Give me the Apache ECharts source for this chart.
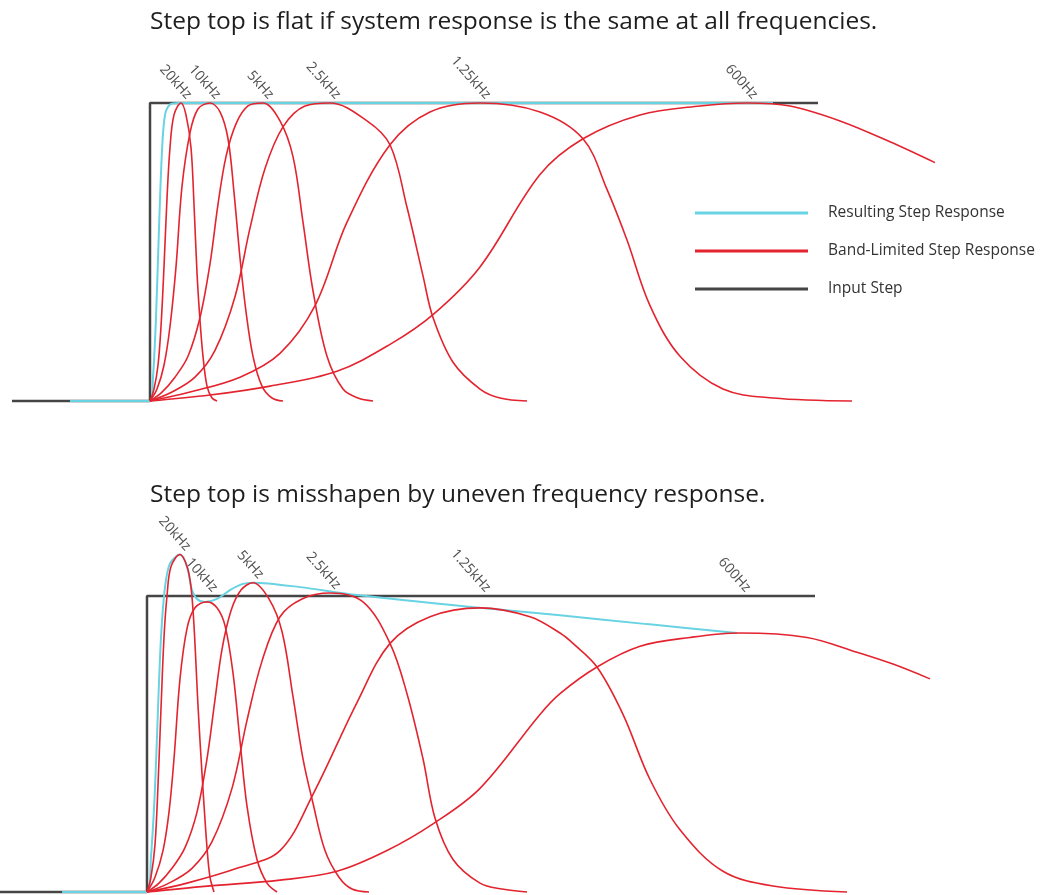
<!DOCTYPE html>
<html lang="en">
<head>
    <meta charset="UTF-8">
    <title>Step response</title>
    <script src="https://cdn.jsdelivr.net/npm/echarts@6/dist/echarts.min.js"></script>
</head>
<style>
html,body{margin: 0;padding: 0;background: #fff}
#chartBox{width: 1043px;height: 895px}
</style>
<body>
    <div id="chartBox"></div>
</body>
<script>
// 频率名称
const bandNames = ['20kHz', '10kHz', '5kHz', '2.5kHz', '1.25kHz', '600Hz'];

// 上图: 时间 t, 幅度 a (1 = 阶跃高度)
const topInput = [[-138,0],[0,0],[0,1],[668,1]];
const topResult = [[-80,0],[0,0],[3,0.08],[6,0.28],[9,0.58],[12,0.84],[15,0.96],[20,0.995],[28,1],[623,1]];
const top20k = [[0,0],[4,0.04],[8,0.12],[11,0.25],[14,0.45],[17,0.68],[20,0.85],[24,0.96],[31,1],[36,0.96],[41,0.85],[44,0.66],[47,0.43],[50,0.27],[53,0.15],[57,0.05],[62,0.01],[67,0]];
const top10k = [[0,0],[7,0.04],[14,0.12],[20,0.25],[26,0.45],[32,0.72],[40,0.9],[48,0.98],[60,1],[70,0.97],[78,0.88],[84,0.7],[90,0.48],[96,0.3],[103,0.15],[112,0.05],[122,0.01],[133,0]];
const top5k = [[0,0],[12,0.03],[25,0.08],[38,0.15],[50,0.28],[60,0.46],[68,0.66],[76,0.82],[86,0.93],[98,0.99],[113,1],[130,0.94],[143,0.82],[153,0.6],[163,0.37],[177,0.15],[193,0.04],[208,0.01],[223,0]];
const top2k5 = [[0,0],[22,0.03],[45,0.08],[65,0.17],[85,0.35],[100,0.58],[115,0.78],[133,0.92],[155,0.99],[180,1],[217,0.94],[240,0.86],[257,0.65],[273,0.42],[283,0.28],[303,0.13],[330,0.04],[350,0.01],[377,0]];
const top1k25 = [[0,0],[40,0.03],[90,0.08],[130,0.16],[165,0.32],[197,0.6],[240,0.86],[280,0.97],[330,1],[390,0.97],[433,0.88],[457,0.71],[477,0.54],[500,0.32],[530,0.15],[573,0.04],[623,0.01],[702,0]];
const top600 = [[0,0],[60,0.02],[120,0.05],[187,0.1],[240,0.19],[283,0.29],[330,0.45],[390,0.76],[433,0.88],[490,0.96],[550,0.99],[597,1],[640,0.99],[690,0.94],[740,0.87],[785,0.8]];

// 下图
const botInput = [[-147,0],[0,0],[0,1],[668,1]];
const botResult = [[-85,0],[0,0],[4,0.12],[8,0.35],[11,0.62],[14,0.86],[18,1.03],[23,1.11],[33,1.14],[40,1.1],[45,1.02],[50,0.99],[58,0.98],[70,0.99],[83,1.02],[95,1.04],[106,1.045],[153,1.03],[210,1.003],[333,0.96],[413,0.935],[500,0.905],[590,0.875]];
const bot20k = [[0,0],[4,0.05],[8,0.16],[11,0.36],[14,0.62],[17,0.86],[20,1.0],[24,1.1],[33,1.14],[40,1.1],[44,1.03],[47,0.9],[51,0.63],[55,0.4],[60,0.15],[63,0.05],[67,0]];
const bot10k = [[0,0],[8,0.05],[16,0.14],[22,0.27],[27,0.45],[33,0.72],[40,0.89],[48,0.96],[60,0.98],[70,0.96],[78,0.9],[86,0.74],[93,0.51],[100,0.29],[110,0.11],[120,0.03],[130,0]];
const bot5k = [[0,0],[12,0.03],[25,0.08],[38,0.15],[50,0.27],[60,0.45],[68,0.65],[75,0.82],[84,0.95],[94,1.02],[106,1.045],[122,0.99],[135,0.88],[146,0.66],[156,0.45],[166,0.3],[178,0.14],[192,0.05],[205,0.01],[222,0]];
const bot2k5 = [[0,0],[22,0.03],[45,0.08],[65,0.17],[85,0.35],[100,0.58],[115,0.78],[133,0.93],[155,0.99],[183,1.01],[216,0.98],[243,0.84],[260,0.67],[276,0.45],[288,0.25],[306,0.11],[333,0.03],[355,0.01],[380,0]];
const bot1k25 = [[0,0],[40,0.03],[90,0.08],[133,0.14],[166,0.33],[210,0.64],[243,0.84],[283,0.93],[333,0.96],[383,0.93],[413,0.875],[426,0.84],[450,0.76],[476,0.6],[503,0.38],[533,0.21],[576,0.07],[626,0.02],[700,0]];
const bot600 = [[0,0],[60,0.02],[133,0.04],[190,0.07],[240,0.14],[286,0.23],[333,0.35],[393,0.6],[413,0.67],[450,0.76],[493,0.83],[543,0.86],[593,0.875],[660,0.86],[710,0.81],[746,0.77],[783,0.72]];

const RED = '#e3242f';
const CYAN = '#68d3e2';
const DARK = '#454545';
const FONT = 'Open Sans';

// 生成一个面板的全部序列
function panelSeries(idx, input, result, bands) {
    let list = [];
    list.push({
        type: 'line', name: 'Input Step', xAxisIndex: idx, yAxisIndex: idx,
        data: input, symbol: 'none', clip: false,
        lineStyle: {color: DARK, width: 2.5}, itemStyle: {color: DARK}
    });
    list.push({
        type: 'line', name: 'Resulting Step Response', xAxisIndex: idx, yAxisIndex: idx,
        data: result, symbol: 'none', clip: false, smooth: 0.3,
        lineStyle: {color: CYAN, width: 2}, itemStyle: {color: CYAN}
    });
    let labelData = [];
    for (let i = 0; i < bands.length; i++) {
        let curve = bands[i];
        list.push({
            type: 'line', name: 'Band-Limited Step Response', xAxisIndex: idx, yAxisIndex: idx,
            data: curve, symbol: 'none', clip: false, smooth: 0.35,
            lineStyle: {color: RED, width: 1.6}, itemStyle: {color: RED}
        });
        // 峰值位置放频率标签
        let peak = curve.reduce((m, p) => p[1] > m[1] ? p : m, curve[0]);
        labelData.push({name: bandNames[i], value: [peak[0], Math.max(peak[1], 1)]});
    }
    list.push({
        type: 'scatter', name: 'labels', xAxisIndex: idx, yAxisIndex: idx,
        data: labelData, symbolSize: 0, silent: true, clip: false,
        label: {
            show: true, formatter: '{b}', position: [0, 0],
            align: 'right', verticalAlign: 'bottom', rotate: -48,
            offset: [1, -3],
            fontFamily: FONT, fontSize: 14, color: '#222'
        }
    });
    return list;
}

let chartObj = echarts.init(document.getElementById('chartBox'), null, {renderer: 'canvas'});
let option = {
    animation: false,
    backgroundColor: '#fff',
    title: [
        {text: 'Step top is flat if system response is the same at all frequencies.', left: 145, top: 5,
         textStyle: {fontFamily: FONT, fontSize: 24.5, fontWeight: 'normal', color: '#1e1e1e'}},
        {text: 'Step top is misshapen by uneven frequency response.', left: 145, top: 478,
         textStyle: {fontFamily: FONT, fontSize: 24.5, fontWeight: 'normal', color: '#1e1e1e'}}
    ],
    legend: {
        orient: 'vertical', left: 690, top: 200,
        itemWidth: 113, itemHeight: 3, itemGap: 22, icon: 'rect',
        selectedMode: false,
        data: ['Resulting Step Response', 'Band-Limited Step Response', 'Input Step'],
        textStyle: {fontFamily: FONT, fontSize: 15.5, color: '#333', padding: [0, 0, 0, 15]}
    },
    grid: [
        {left: 0, right: 0, top: 103, bottom: 494},
        {left: 0, right: 0, top: 596, bottom: 3}
    ],
    xAxis: [
        {type: 'value', gridIndex: 0, min: -150, max: 893, show: false},
        {type: 'value', gridIndex: 1, min: -147, max: 896, show: false}
    ],
    yAxis: [
        {type: 'value', gridIndex: 0, min: 0, max: 1, show: false},
        {type: 'value', gridIndex: 1, min: 0, max: 1, show: false}
    ],
    series: panelSeries(0, topInput, topResult, [top20k, top10k, top5k, top2k5, top1k25, top600])
        .concat(panelSeries(1, botInput, botResult, [bot20k, bot10k, bot5k, bot2k5, bot1k25, bot600]))
};
chartObj.setOption(option);
</script>
</html>
